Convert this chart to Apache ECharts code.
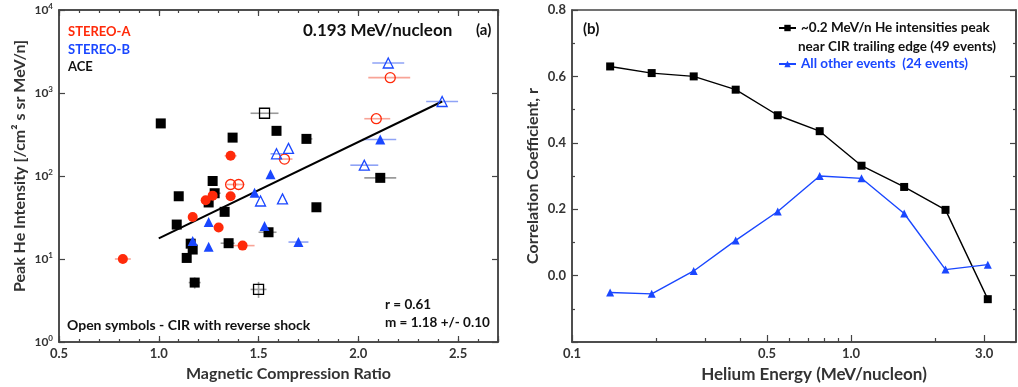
<!DOCTYPE html>
<html><head><meta charset="utf-8">
<script src="https://cdn.jsdelivr.net/npm/echarts@6/dist/echarts.min.js"></script>
<style>html,body{margin:0;padding:0;background:#fff}#c{width:1018px;height:387px}</style>
</head><body><div id="c"></div>
<script>
// ---------- Panel (a): [compression ratio, peak He intensity, xErrLo, xErrHi, yErrLo, yErrHi]
const aceFilled = [
  [1.01, 430], [1.37, 290], [1.27, 87], [1.59, 350], [1.74, 280, 1.72, 1.77],
  [2.11, 95, 2.03, 2.19], [1.10, 57], [1.28, 62, 1.26, 1.31], [1.25, 48], [1.33, 37],
  [1.09, 26], [1.16, 15.3], [1.17, 13], [1.14, 10.3], [1.35, 15.5, 1.31, 1.38],
  [1.18, 5.2, 1.15, 1.21, 4.4, 6.0], [1.79, 42], [1.55, 21, 1.50, 1.59]
];
const aceOpen = [
  [1.53, 570, 1.46, 1.60], [1.50, 4.3, 1.46, 1.54, 3.4, 5.3]
];
const staFilled = [
  [1.36, 175, 1.33, 1.39], [0.82, 10, 0.78, 0.86], [1.235, 51], [1.27, 58], [1.36, 57],
  [1.17, 32], [1.30, 24], [1.42, 14.5, 1.36, 1.48]
];
const staOpen = [
  [2.16, 1530, 2.05, 2.26], [2.09, 490, 2.03, 2.16], [1.63, 160, 1.60, 1.67],
  [1.36, 79, 1.34, 1.40], [1.40, 79, 1.37, 1.43]
];
const stbFilled = [
  [2.11, 275, 2.02, 2.19], [1.56, 105], [1.48, 63], [1.25, 28], [1.53, 25],
  [1.17, 16.5], [1.25, 14], [1.70, 16, 1.65, 1.75]
];
const stbOpen = [
  [2.15, 2300, 2.07, 2.23], [2.42, 790, 2.34, 2.50], [2.03, 135, 1.96, 2.10],
  [1.65, 215], [1.59, 185, 1.56, 1.62], [1.51, 50], [1.62, 53]
];
const fitLine = [[1.0, 17.7], [2.42, 790]];

// ---------- Panel (b)
const energies   = [0.137, 0.193, 0.273, 0.386, 0.546, 0.772, 1.09, 1.55, 2.18, 3.09];
const rTrailing  = [0.63, 0.61, 0.60, 0.56, 0.483, 0.435, 0.331, 0.267, 0.198, -0.071];
const rOther     = [-0.051, -0.055, 0.014, 0.106, 0.193, 0.30, 0.293, 0.187, 0.018, 0.033];
const energyTicks  = [0.2, 0.3, 0.4, 0.6, 0.7, 0.8, 0.9, 2];
const energyLabels = [0.1, 0.5, 1, 3];
const nameTrailing = '~0.2 MeV/n He intensities peak';
const nameOther = 'All other events  (24 events)';

const RED = '#ff2a0a', BLUE = '#1a47ff', BLACK = '#000000';
const AX = '#444';
const FF = 'Lato';
const lab = {fontFamily: FF, fontWeight: 'bold', fontSize: 13, color: '#333'};
const nameStyle = {fontFamily: FF, fontWeight: 'bold', fontSize: 16, color: '#333'};
const axLine = {show: true, onZero: false, lineStyle: {color: AX, width: 1.5}};

function errSeries(data, color) {
  const d = data.filter(p => p.length > 2).map(p => [p[0], p[1], p[2] ?? p[0], p[3] ?? p[0], p[4] ?? p[1], p[5] ?? p[1]]);
  return {
    type: 'custom', xAxisIndex: 0, yAxisIndex: 0, silent: true, z: 1,
    dimensions: ['x', 'y', 'xlo', 'xhi', 'ylo', 'yhi'],
    encode: {x: 0, y: 1},
    data: d,
    renderItem(params, api) {
      const x = api.value(0), y = api.value(1);
      const ch = [];
      const a = api.coord([api.value(2), y]), b = api.coord([api.value(3), y]);
      if (Math.abs(a[0] - b[0]) > 0.5) ch.push({type: 'line', shape: {x1: a[0], y1: a[1], x2: b[0], y2: b[1]}, style: {stroke: color, lineWidth: 1.6}});
      const c = api.coord([x, api.value(4)]), e = api.coord([x, api.value(5)]);
      if (Math.abs(c[1] - e[1]) > 0.5) ch.push({type: 'line', shape: {x1: c[0], y1: c[1], x2: e[0], y2: e[1]}, style: {stroke: color, lineWidth: 1.6}});
      return {type: 'group', children: ch};
    }
  };
}
function scat(data, symbol, size, color, open) {
  return {
    type: 'scatter', xAxisIndex: 0, yAxisIndex: 0, z: 3, symbol, symbolSize: size,
    data: data.map(p => [p[0], p[1]]),
    itemStyle: open ? {color: 'rgba(0,0,0,0)', borderColor: color, borderWidth: 1.3, opacity: 1} : {color, opacity: 1},
    emphasis: {disabled: true}
  };
}

const chart = echarts.init(document.getElementById('c'), null, {renderer: 'canvas'});
const option = {
  animation: false,
  textStyle: {fontFamily: FF, fontWeight: 'bold'},
  grid: [
    {left: 59, top: 10, width: 439, height: 332, show: true, borderColor: AX, borderWidth: 1.5, outerBoundsMode: 'none', containLabel: false},
    {left: 572, top: 10, width: 444, height: 332, show: true, borderColor: AX, borderWidth: 1.5, outerBoundsMode: 'none', containLabel: false}
  ],
  xAxis: [
    {type: 'value', gridIndex: 0, position: 'bottom', min: 0.5, max: 2.7, interval: 0.1,
     axisLine: axLine, axisTick: {inside: true, length: 3, lineStyle: {color: AX, width: 1.2}},
     axisLabel: Object.assign({margin: 5, formatter: v => (Math.abs(v * 2 - Math.round(v * 2)) < 1e-6 ? v.toFixed(1) : '')}, lab),
     splitLine: {show: false},
     name: 'Magnetic Compression Ratio', nameLocation: 'middle', nameGap: 24,
     nameTextStyle: Object.assign({}, nameStyle, {padding: [0, 0, 0, 20]})},
    {type: 'value', gridIndex: 0, position: 'bottom', min: 0.5, max: 2.7, interval: 0.5,
     axisLine: {show: false, onZero: false}, axisTick: {inside: true, length: 6, lineStyle: {color: AX, width: 1.2}},
     axisLabel: {show: false}, splitLine: {show: false}},
    {type: 'value', gridIndex: 0, position: 'top', min: 0.5, max: 2.7, interval: 0.1,
     axisLine: axLine, axisTick: {inside: true, length: 3, lineStyle: {color: AX, width: 1.2}},
     axisLabel: {show: false}, splitLine: {show: false}},
    {type: 'value', gridIndex: 0, position: 'top', min: 0.5, max: 2.7, interval: 0.5,
     axisLine: {show: false, onZero: false}, axisTick: {inside: true, length: 6, lineStyle: {color: AX, width: 1.2}},
     axisLabel: {show: false}, splitLine: {show: false}},
    // panel b
    {type: 'log', logBase: 10, gridIndex: 1, position: 'bottom', min: 0.1, max: 3.9,
     axisLine: axLine,
     axisTick: {inside: true, length: 4, customValues: energyTicks, lineStyle: {color: AX, width: 1.2}},
     axisLabel: Object.assign({margin: 5, customValues: energyLabels, formatter: v => Number(v).toFixed(1)}, lab),
     splitLine: {show: false}, minorTick: {show: false},
     name: 'Helium Energy (MeV/nucleon)', nameLocation: 'middle', nameGap: 24,
     nameTextStyle: Object.assign({}, nameStyle, {fontSize: 17, padding: [0, 0, 0, 40]})},
    {type: 'log', logBase: 10, gridIndex: 1, position: 'bottom', min: 0.1, max: 3.9,
     axisLine: {show: false, onZero: false},
     axisTick: {inside: true, length: 7, customValues: energyLabels, lineStyle: {color: AX, width: 1.2}},
     axisLabel: {show: false}, splitLine: {show: false}}
  ],
  yAxis: [
    {type: 'log', logBase: 10, gridIndex: 0, position: 'left', min: 1, max: 10000,
     axisLine: axLine, axisTick: {inside: true, length: 6, lineStyle: {color: AX, width: 1.2}},
     axisLabel: {margin: 6, fontFamily: FF, fontWeight: 'bold', fontSize: 12, color: '#333',
       formatter: v => '10{s|' + Math.round(Math.log10(v)) + '}',
       rich: {s: {fontSize: 8, fontFamily: FF, fontWeight: 'bold', color: '#333', verticalAlign: 'top', padding: [0, 0, 7, 0]}}},
     splitLine: {show: false},
     name: 'Peak He Intensity [/cm² s sr MeV/n]', nameLocation: 'middle', nameGap: 31,
     nameTextStyle: Object.assign({}, nameStyle, {padding: [0, 0, 0, 20]})},
    {type: 'log', logBase: 10, gridIndex: 0, position: 'right', min: 1, max: 10000,
     axisLine: axLine, axisTick: {inside: true, length: 6, lineStyle: {color: AX, width: 1.2}},
     axisLabel: {show: false}, splitLine: {show: false}},
    {type: 'value', gridIndex: 1, position: 'left', min: -0.2, max: 0.8, interval: 0.2,
     axisLine: axLine, axisTick: {inside: true, length: 6, lineStyle: {color: AX, width: 1.2}},
     minorTick: {show: true, splitNumber: 2, length: 3, lineStyle: {color: AX, width: 1.2}},
     axisLabel: Object.assign({margin: 6, showMinLabel: false, formatter: v => (v < -0.15 ? '' : v.toFixed(1))}, lab),
     splitLine: {show: false},
     name: 'Correlation Coefficient, r', nameLocation: 'middle', nameGap: 31, nameTextStyle: nameStyle},
    {type: 'value', gridIndex: 1, position: 'right', min: -0.2, max: 0.8, interval: 0.2,
     axisLine: axLine, axisTick: {inside: true, length: 6, lineStyle: {color: AX, width: 1.2}},
     minorTick: {show: true, splitNumber: 2, length: 3, lineStyle: {color: AX, width: 1.2}},
     axisLabel: {show: false}, splitLine: {show: false}}
  ],
  legend: [
    {left: 778, top: 21, padding: 0, itemWidth: 17, itemHeight: 8, itemGap: 4,
     data: [{name: nameTrailing, textStyle: {color: '#111'}}],
     textStyle: {fontFamily: FF, fontWeight: 'bold', fontSize: 13.5}},
    {left: 778, top: 57, padding: 0, itemWidth: 17, itemHeight: 8, itemGap: 4,
     data: [{name: nameOther, textStyle: {color: BLUE}}],
     textStyle: {fontFamily: FF, fontWeight: 'bold', fontSize: 13.5}}
  ],
  series: [
    errSeries(aceFilled.concat(aceOpen), '#9a9a9a'),
    errSeries(staFilled.concat(staOpen), '#f8a497'),
    errSeries(stbFilled.concat(stbOpen), '#8fa3f6'),
    {type: 'line', xAxisIndex: 0, yAxisIndex: 0, data: fitLine, showSymbol: false, symbol: 'none', z: 2,
     lineStyle: {color: BLACK, width: 2}, silent: true},
    scat(aceOpen, 'rect', 10, BLACK, true),
    scat(staOpen, 'circle', 10, RED, true),
    scat(stbOpen, 'triangle', 10, BLUE, true),
    scat(aceFilled, 'rect', 10, BLACK, false),
    scat(staFilled, 'circle', 10, RED, false),
    scat(stbFilled, 'triangle', 10, BLUE, false),
    {name: nameTrailing, type: 'line', xAxisIndex: 4, yAxisIndex: 2,
     data: energies.map((e, i) => [e, rTrailing[i]]),
     symbol: 'rect', symbolSize: 8, showAllSymbol: true,
     lineStyle: {color: BLACK, width: 1.4}, itemStyle: {color: BLACK}},
    {name: nameOther, type: 'line', xAxisIndex: 4, yAxisIndex: 2,
     data: energies.map((e, i) => [e, rOther[i]]),
     symbol: 'triangle', symbolSize: 8, showAllSymbol: true,
     lineStyle: {color: BLUE, width: 1.4}, itemStyle: {color: BLUE}}
  ],
  graphic: [
    {type: 'text', x: 68, y: 32, style: {text: 'STEREO-A', fill: RED, font: 'bold 13px Lato', verticalAlign: 'middle'}},
    {type: 'text', x: 68, y: 50, style: {text: 'STEREO-B', fill: BLUE, font: 'bold 13px Lato', verticalAlign: 'middle'}},
    {type: 'text', x: 68, y: 67, style: {text: 'ACE', fill: '#111', font: 'bold 13px Lato', verticalAlign: 'middle'}},
    {type: 'text', x: 303, y: 31, style: {text: '0.193 MeV/nucleon', fill: '#111', font: 'bold 17px Lato', verticalAlign: 'middle'}},
    {type: 'text', x: 476, y: 30, style: {text: '(a)', fill: '#111', font: 'bold 15px Lato', verticalAlign: 'middle'}},
    {type: 'text', x: 385, y: 305, style: {text: 'r = 0.61', fill: '#111', font: 'bold 13.5px Lato', verticalAlign: 'middle'}},
    {type: 'text', x: 385, y: 323, style: {text: 'm = 1.18 +/- 0.10', fill: '#111', font: 'bold 13.5px Lato', verticalAlign: 'middle'}},
    {type: 'text', x: 67, y: 325, style: {text: 'Open symbols - CIR with reverse shock', fill: '#111', font: 'bold 14px Lato', verticalAlign: 'middle'}},
    {type: 'text', x: 583, y: 29, style: {text: '(b)', fill: '#111', font: 'bold 15px Lato', verticalAlign: 'middle'}},
    {type: 'text', x: 798, y: 47, style: {text: 'near CIR trailing edge (49 events)', fill: '#111', font: 'bold 13.5px Lato', verticalAlign: 'middle'}}
  ]
};
chart.setOption(option);
</script>
</body></html>
